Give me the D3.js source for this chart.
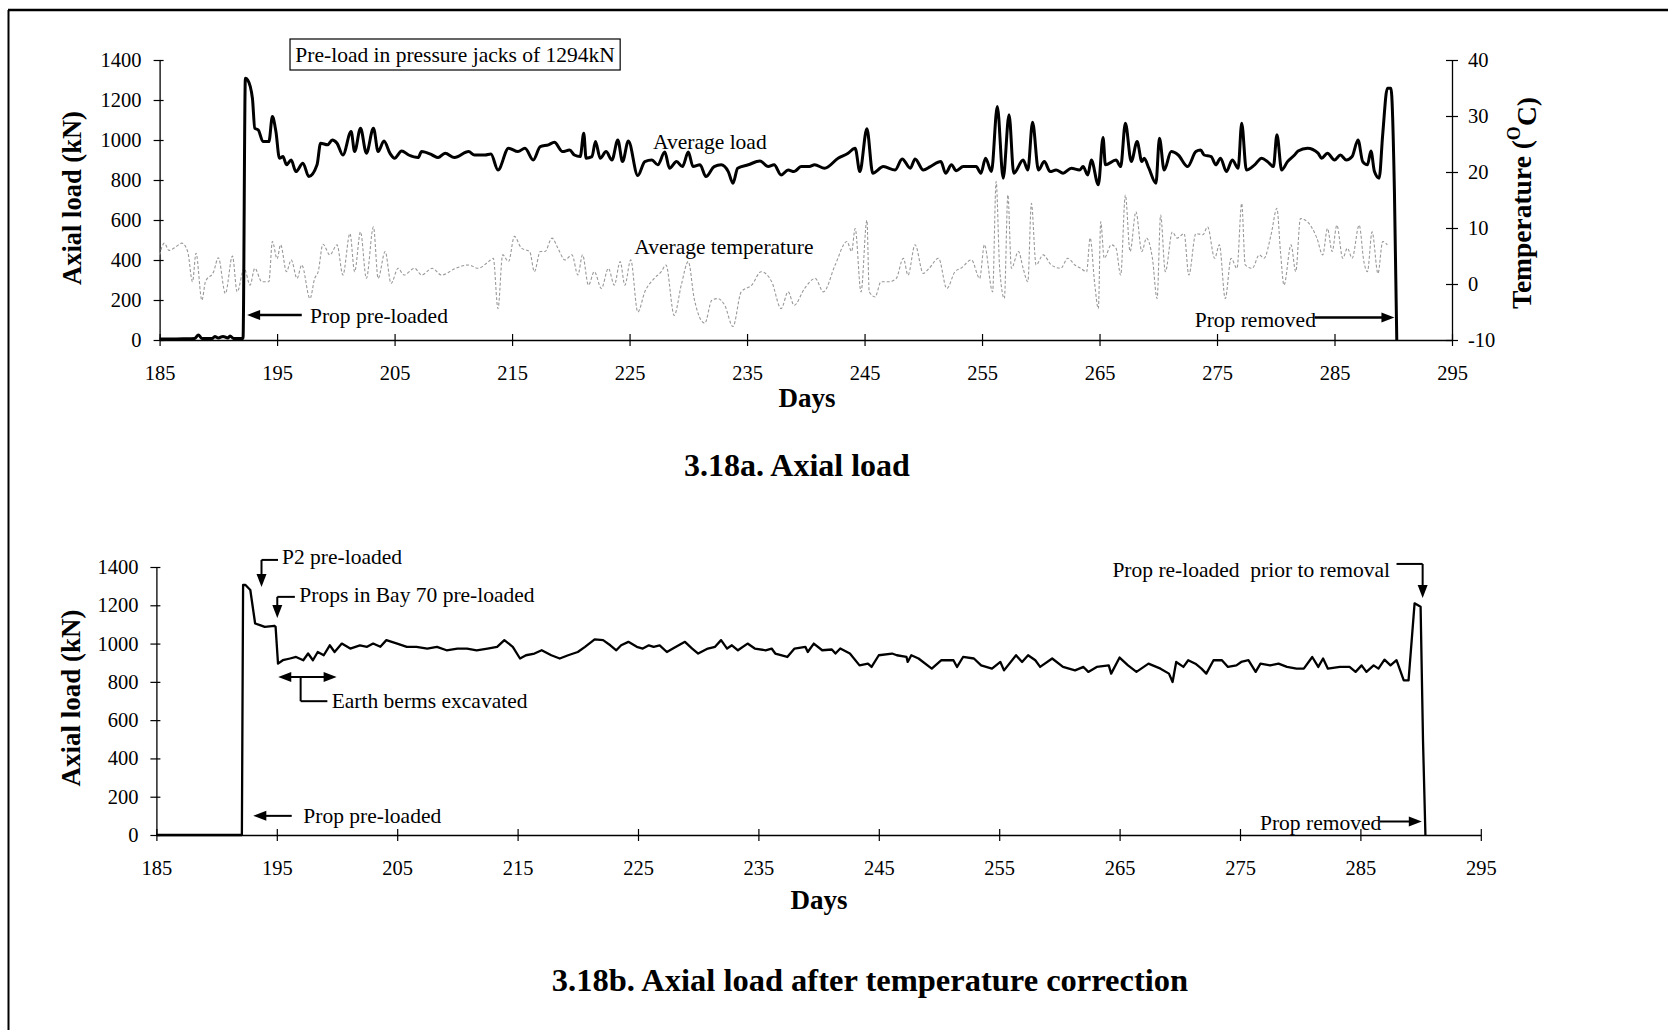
<!DOCTYPE html>
<html><head><meta charset="utf-8">
<script src="https://cdn.jsdelivr.net/npm/d3@7"></script>
<style>body{margin:0;background:#fff} svg{display:block}</style>
</head><body>
<svg id="c" width="1668" height="1030"></svg>
<script>
// ---------------- DATA ----------------
const dayTicks = [185,195,205,215,225,235,245,255,265,275,285,295];
const loadTicks = [0,200,400,600,800,1000,1200,1400];
const tempTicks = [-10,0,10,20,30,40];

// Fig 3.18a: average axial load (kN)
const loadADays = [185,186,187,188,188.3,188.6,189.5,189.7,190.0,190.4,190.8,191.0,191.3,192.1,192.3,192.5,192.9,193.1,193.4,193.8,194.3,194.6,194.9,195.2,195.5,195.8,196.2,196.6,197.2,197.7,198.4,198.7,199.3,199.7,200.1,200.6,201.3,201.6,202.1,202.6,203.2,203.6,204.1,204.6,205.0,205.6,206.2,207.0,207.3,208.2,208.7,209.3,210.1,211.3,211.8,212.7,213.2,213.8,214.7,215.5,216.1,216.8,217.4,218.1,218.6,219.3,219.9,220.3,220.8,221.1,221.3,221.8,222.1,222.5,223.0,223.5,224.0,224.4,224.9,225.7,226.3,226.9,227.4,228.0,228.4,229.0,229.5,230.0,230.4,231.0,231.5,232.2,232.8,233.4,233.8,234.2,235.1,236.1,236.8,237.3,237.9,238.5,239.0,239.6,240.3,240.75,241.6,242.75,243.6,244.2,244.6,245.2,245.7,246.6,247.6,248.2,248.9,249.3,250.0,250.6,251.5,251.9,252.4,252.8,253.4,254.5,254.9,255.3,255.8,256.3,256.8,257.3,257.7,258.5,258.9,259.3,259.8,260.3,260.8,261.3,261.9,262.6,263.3,263.6,264.0,264.3,264.9,265.3,265.5,266.4,266.8,267.2,267.7,268.2,268.6,268.8,269.2,269.8,270.1,270.5,271.1,271.7,272.5,273.2,273.6,273.9,274.5,274.9,275.3,275.8,276.3,276.8,277.1,277.5,278.2,278.8,279.3,279.8,280.1,280.5,281.0,281.6,281.9,282.7,283.6,283.9,284.4,285.0,285.5,286.0,286.5,287.0,287.4,287.8,288.1,288.4,288.8,289.1,289.5,289.8,290.1,290.3];
const loadAValues = [5,5,6,8,25,8,8,18,10,18,10,20,8,8,1309,1300,1209,1059,1050,992,992,1117,1042,909,917,876,900,842,884,817,876,984,976,1000,984,925,1042,942,1059,934,1059,942,995,934,909,945,925,912,942,925,912,934,912,942,925,925,930,850,959,942,959,900,967,976,989,942,950,925,917,1034,909,917,992,909,942,900,1000,892,995,822,892,900,876,940,859,892,867,940,867,876,817,867,876,842,784,859,876,895,867,876,825,850,842,867,867,876,859,909,934,959,842,1056,834,867,850,905,859,905,850,867,892,834,876,846,867,867,834,909,842,1167,809,1126,834,900,850,1089,850,892,842,850,834,859,850,867,825,900,776,1012,876,900,867,1084,892,992,892,909,859,784,1009,850,942,925,867,942,950,925,917,876,909,842,900,859,1084,850,876,909,892,867,1026,850,892,925,945,959,934,909,934,900,925,900,917,1000,892,876,945,842,809,1026,1259,1259,742,0];

// Fig 3.18a: average temperature (deg C)
const tempDays = [185.0,185.4,185.8,186.3,186.9,187.4,187.8,188.1,188.6,188.9,189.6,190.0,190.6,191.2,191.6,192.2,192.7,193.1,193.7,194.3,194.6,195.0,195.3,195.8,196.2,196.7,197.1,197.8,198.2,198.5,198.9,199.5,200.1,200.6,201.2,201.6,202.1,202.6,203.2,203.6,204.2,204.7,205.3,205.8,206.7,207.3,208.2,209.0,210.2,211.3,212.1,213.0,213.4,213.8,214.2,214.7,215.2,215.8,216.5,216.9,217.4,217.8,218.4,218.9,219.5,220.1,220.6,221.0,221.5,222.0,222.6,223.2,223.7,224.2,224.6,225.1,225.7,226.3,227.1,227.7,228.1,228.8,229.4,230.0,230.5,231.4,232.0,232.5,233.1,233.8,234.5,235.4,236.2,237.1,237.9,238.5,239.0,239.9,240.8,241.5,242.5,243.5,243.9,244.2,244.7,245.2,245.4,245.9,246.4,247.1,247.7,248.3,248.7,249.3,250.0,250.5,251.3,252.0,252.7,253.2,254.1,254.8,255.2,255.9,256.2,256.5,256.9,257.2,257.5,258.1,258.5,258.9,259.2,259.6,260.2,260.9,261.7,262.3,262.9,263.4,263.9,264.2,264.6,264.9,265.1,265.4,266.0,266.4,266.8,267.2,267.6,268.1,268.6,269.0,269.5,269.9,270.2,270.6,271.2,271.6,272.2,272.6,273.2,273.8,274.2,274.8,275.2,275.7,276.2,276.7,277.1,277.4,278.0,278.6,279.0,279.6,280.1,280.4,280.7,281.3,281.7,282.1,282.7,283.5,284.0,284.4,284.8,285.2,285.7,286.1,286.5,287.1,287.5,287.8,288.2,288.7,289.1,289.5];
const tempValues = [5.2,7.3,6.0,6.5,7.3,5.7,0.4,5.5,-2.9,0.4,2.2,4.7,-1.7,5.0,-1.4,2.8,-0.2,2.8,0.4,0.4,7.6,4.5,7.0,2.2,4.3,1.0,3.4,-2.6,1.0,2.2,7.1,5.2,7.0,1.6,9.0,2.2,9.3,1.0,10.2,1.0,5.8,0.1,2.8,1.6,2.8,1.6,2.8,1.6,2.8,3.4,2.8,4.0,4.6,-4.4,5.2,4.0,8.5,6.4,5.8,2.2,5.8,5.8,8.2,6.4,4.3,5.2,1.6,5.2,-0.2,2.2,-0.8,2.8,-0.2,4.0,-0.2,4.3,-5.0,-1.4,1.0,2.2,3.4,-5.6,-0.2,4.0,-2.6,-7.0,-2.9,-2.6,-3.8,-7.6,-1.4,-0.2,2.2,0.4,-4.4,-1.4,-3.8,-0.8,1.0,-1.4,3.4,7.6,5.8,9.9,-1.4,11.4,-1.4,-2.3,0.4,0.4,1.0,4.6,1.6,7.0,1.9,2.8,4.6,-0.8,2.2,2.8,4.3,1.0,7.0,-1.4,18.3,2.8,-2.6,15.9,2.8,5.8,2.8,0.4,14.4,3.4,5.2,3.4,2.8,4.6,3.4,2.8,2.2,8.2,-0.2,-4.4,11.1,4.6,7.0,6.4,1.6,15.9,5.8,12.9,5.8,8.2,4.6,-2.6,12.3,2.2,9.3,8.2,9.0,1.6,9.0,8.8,10.2,4.6,7.0,-2.6,4.6,2.8,14.4,3.4,2.8,5.2,4.6,8.8,13.5,5.8,-0.2,7.0,2.2,11.7,11.1,8.2,5.2,9.9,5.8,10.5,4.6,6.4,4.6,10.5,4.0,2.2,9.3,1.9,7.6,7.0];

// Fig 3.18b: axial load after temperature correction (kN)
const loadBDays = [185,192.1,192.2,192.4,192.8,193.2,193.6,194.0,194.4,194.8,194.9,195.1,195.5,196.1,196.6,197.2,197.6,198.0,198.4,198.9,199.4,199.8,200.4,201.1,201.9,202.5,203.0,203.6,204.1,205.0,205.8,206.6,207.5,208.3,209.1,210.0,210.8,211.6,212.5,213.3,213.9,214.6,215.2,215.7,216.4,217.0,217.8,218.5,219.2,220.0,220.6,221.4,222.1,222.7,223.2,223.6,224.2,224.9,225.4,225.9,226.3,226.8,227.4,227.9,228.9,229.5,230.0,230.8,231.4,231.9,232.4,232.8,233.3,234.1,234.7,235.6,236.1,236.4,237.4,238.0,238.9,239.1,239.6,240.3,241.1,241.4,241.8,242.6,243.4,244.1,244.4,245.0,246.1,246.5,247.3,247.4,247.7,248.3,249.4,250.2,251.2,251.5,252.0,252.9,253.5,254.4,255.1,255.4,256.4,256.9,257.4,258.0,258.4,259.4,260.3,261.3,262.0,262.4,263.1,264.1,264.3,265.0,265.7,266.4,267.4,268.4,269.1,269.4,269.7,270.3,270.7,271.3,271.8,272.2,272.8,273.5,274.0,274.7,275.1,275.7,276.3,276.7,277.5,278.2,278.9,279.7,280.3,281.0,281.5,281.9,282.3,283.3,284.1,284.6,285.1,285.5,286.1,286.5,287.0,287.5,288.0,288.6,289.0,289.5,290.0,290.2,290.4];
const loadBValues = [0,0,1306,1306,1280,1105,1096,1087,1090,1093,1087,895,913,922,930,913,948,913,956,939,991,956,1000,974,991,983,1000,983,1018,1000,983,983,974,983,965,974,974,965,974,983,1018,983,922,939,948,965,939,922,939,956,983,1022,1018,991,965,991,1009,983,974,991,983,991,956,974,1009,974,948,974,983,1018,974,991,965,1000,974,965,974,948,930,974,983,956,1000,965,969,948,974,948,886,895,878,939,948,939,930,904,939,922,869,913,913,878,930,922,886,869,904,860,939,904,939,913,878,922,878,860,878,852,878,886,843,927,886,852,895,869,843,799,904,878,913,895,869,843,913,913,878,886,904,913,852,895,886,895,878,869,869,930,878,922,869,878,878,852,886,852,886,869,916,886,913,808,808,1210,1192,493,0];

// ---------------- DRAW ----------------
const SERIF = "'Liberation Serif','Times New Roman',Times,serif";
const svg = d3.select("#c");
const fmtNum = d => (d < 0 ? "-" + (-d) : String(d));

// page frame
svg.append("line").attr("x1",8.5).attr("x2",8.5).attr("y1",10).attr("y2",1030).attr("stroke","#000").attr("stroke-width",2);
svg.append("line").attr("x1",8).attr("x2",1668).attr("y1",10).attr("y2",10).attr("stroke","#000").attr("stroke-width",2.5);

function zip(a,b){ return a.map((d,i)=>({x:d,y:b[i]})); }

function drawAxes(g, x, y, fs){
  const [yb] = y.range();
  const xa = g.append("g").attr("transform",`translate(0,${yb})`)
    .call(d3.axisBottom(x).tickValues(dayTicks).tickSizeOuter(0).tickFormat(fmtNum));
  xa.selectAll(".tick line").attr("y1",-6).attr("y2",6);
  xa.selectAll(".tick text").attr("y",33).attr("dy","0.35em");
  const [x0] = x.range();
  const ya = g.append("g").attr("transform",`translate(${x0},0)`)
    .call(d3.axisLeft(y).tickValues(loadTicks).tickSizeOuter(0).tickFormat(fmtNum));
  ya.selectAll(".tick line").attr("x1",-6).attr("x2",4);
  ya.selectAll(".tick text").attr("x",-18);
  [xa,ya].forEach(a=>{
    a.attr("font-family",SERIF).attr("font-size",fs);
    a.selectAll("text").attr("fill","#000");
    a.select(".domain").attr("stroke","#000").attr("stroke-width",1.3);
    a.selectAll(".tick line").attr("stroke","#000").attr("stroke-width",1.2);
  });
  return {xa,ya};
}

function arrowHead(g, tx, ty, dir, len=13, hw=5){
  let p;
  if(dir==="left") p=[[tx,ty],[tx+len,ty-hw],[tx+len,ty+hw]];
  else if(dir==="right") p=[[tx,ty],[tx-len,ty-hw],[tx-len,ty+hw]];
  else if(dir==="down") p=[[tx,ty],[tx-hw,ty-len],[tx+hw,ty-len]];
  g.append("path").attr("d","M"+p.map(q=>q.join(",")).join("L")+"Z").attr("fill","#000");
}
function txt(g, x, y, s, opts={}){
  return g.append("text").attr("x",x).attr("y",y).attr("dy","0.35em")
    .attr("font-family",SERIF).attr("font-size",opts.fs||20)
    .attr("font-weight",opts.bold?"bold":"normal")
    .attr("text-anchor",opts.anchor||"start").attr("fill","#000").text(s);
}

// ===== Top chart (3.18a) =====
{
  const g = svg.append("g");
  const x = d3.scaleLinear().domain([185,295]).range([159.6,1452]);
  const y = d3.scaleLinear().domain([0,1400]).range([340,60]);
  const yT = d3.scaleLinear().domain([-10,40]).range([340,60]);
  drawAxes(g, x, y, 20.5);
  const ra = g.append("g").attr("transform",`translate(${x(295)},0)`)
    .call(d3.axisRight(yT).tickValues(tempTicks).tickSizeOuter(0).tickFormat(fmtNum));
  ra.attr("font-family",SERIF).attr("font-size",20.5);
  ra.selectAll(".tick line").attr("x1",-6).attr("x2",6).attr("stroke","#000").attr("stroke-width",1.2);
  ra.selectAll(".tick text").attr("x",16).attr("fill","#000");
  ra.select(".domain").attr("stroke","#000").attr("stroke-width",1.3);

  // temperature
  g.append("path").datum(zip(tempDays,tempValues))
    .attr("fill","none").attr("stroke","#999").attr("stroke-width",1.1)
    .attr("stroke-dasharray","3,2")
    .attr("d", d3.line().x(d=>x(d.x)).y(d=>yT(d.y)).curve(d3.curveMonotoneX));
  // load
  g.append("path").datum(zip(loadADays,loadAValues))
    .attr("fill","none").attr("stroke","#000").attr("stroke-width",3)
    .attr("stroke-linejoin","round")
    .attr("d", d3.line().x(d=>x(d.x)).y(d=>y(d.y)).curve(d3.curveMonotoneX));

  // annotation box
  const bx0 = x(196.1), bx1 = x(224.2), by0 = 39, by1 = 70;
  g.append("rect").attr("x",bx0).attr("y",by0).attr("width",bx1-bx0).attr("height",by1-by0)
    .attr("fill","#fff").attr("stroke","#000").attr("stroke-width",1.2);
  txt(g,(bx0+bx1)/2,(by0+by1)/2,"Pre-load in pressure jacks of 1294kN",{anchor:"middle",fs:21.5});

  txt(g, x(227.0), y(992), "Average load", {fs:21.5});
  txt(g, x(225.4), yT(6.7), "Average temperature", {fs:21.5});

  // Prop pre-loaded
  const ay = y(125);
  g.append("line").attr("x1",x(192.45)+10).attr("x2",x(197.1)).attr("y1",ay).attr("y2",ay).attr("stroke","#000").attr("stroke-width",2.5);
  arrowHead(g, x(192.45), ay, "left");
  txt(g, x(197.8), ay, "Prop pre-loaded", {fs:21.5});

  // Prop removed
  const ry = y(108);
  txt(g, x(273.1), ry+1, "Prop removed", {fs:21.5});
  g.append("line").attr("x1",x(283.3)).attr("x2",x(290.1)-10).attr("y1",ry-1).attr("y2",ry-1).attr("stroke","#000").attr("stroke-width",2.5);
  arrowHead(g, x(290.1), ry-1, "right");

  // axis titles
  g.append("text").attr("transform",`translate(72,198) rotate(-90)`)
    .attr("text-anchor","middle").attr("dy","0.35em").attr("font-family",SERIF)
    .attr("font-size",26.5).attr("font-weight","bold").text("Axial load (kN)");
  const tt = g.append("text").attr("transform",`translate(1521,203) rotate(-90)`)
    .attr("text-anchor","middle").attr("dy","0.35em").attr("font-family",SERIF)
    .attr("font-size",27.5).attr("font-weight","bold");
  tt.append("tspan").text("Temperature (");
  tt.append("tspan").attr("font-size",18).attr("dy","-0.6em").text("O");
  tt.append("tspan").attr("dy","0.6em").text("C)");
  txt(g, 807, 398, "Days", {fs:27, bold:true, anchor:"middle"});
  txt(g, 797, 465, "3.18a. Axial load", {fs:32, bold:true, anchor:"middle"});
}

// ===== Bottom chart (3.18b) =====
{
  const g = svg.append("g");
  const x = d3.scaleLinear().domain([185,295]).range([156.4,1480.8]);
  const y = d3.scaleLinear().domain([0,1400]).range([835,567]);
  drawAxes(g, x, y, 20.5);

  g.append("path").datum(zip(loadBDays,loadBValues))
    .attr("fill","none").attr("stroke","#000").attr("stroke-width",2.3)
    .attr("stroke-linejoin","round")
    .attr("d", d3.line().x(d=>x(d.x)).y(d=>y(d.y)));

  const lw = 2;
  function seg(x1,y1,x2,y2){ g.append("line").attr("x1",x1).attr("y1",y1).attr("x2",x2).attr("y2",y2).attr("stroke","#000").attr("stroke-width",lw); }

  // P2 pre-loaded
  seg(x(193.73), y(1437), x(195.1), y(1437));
  seg(x(193.73), y(1437), x(193.73), y(1295)-10);
  arrowHead(g, x(193.73), y(1295), "down");
  txt(g, x(195.43), y(1455), "P2 pre-loaded", {fs:21.5});

  // Props in Bay 70 pre-loaded
  seg(x(195.04), y(1244), x(196.5), y(1244));
  seg(x(195.04), y(1244), x(195.04), y(1133)-10);
  arrowHead(g, x(195.04), y(1133), "down");
  txt(g, x(196.87), y(1258), "Props in Bay 70 pre-loaded", {fs:21.5});

  // Earth berms excavated
  seg(x(195.12)+10, y(825), x(199.97)-10, y(825));
  arrowHead(g, x(195.12), y(825), "left");
  arrowHead(g, x(199.97), y(825), "right");
  seg(x(196.98), y(825), x(196.98), y(699));
  seg(x(196.98), y(699), x(199.2), y(699));
  txt(g, x(199.56), y(703), "Earth berms excavated", {fs:21.5});

  // Prop pre-loaded
  seg(x(193.05)+10, y(100), x(196.24), y(100));
  arrowHead(g, x(193.05), y(100), "left");
  txt(g, x(197.2), y(100), "Prop pre-loaded", {fs:21.5});

  // Prop re-loaded prior to removal
  txt(g, x(287.46), y(1388), "Prop re-loaded  prior to removal", {fs:21.5, anchor:"end"}).attr("xml:space","preserve");
  seg(x(288.0), y(1416), x(290.17), y(1416));
  seg(x(290.17), y(1416), x(290.17), y(1238)-10);
  arrowHead(g, x(290.17), y(1238), "down");

  // Prop removed
  txt(g, x(276.66), y(68), "Prop removed", {fs:21.5});
  seg(x(286.6), y(70), x(290.1)-10, y(70));
  arrowHead(g, x(290.1), y(70), "right");

  g.append("text").attr("transform",`translate(71,698) rotate(-90)`)
    .attr("text-anchor","middle").attr("dy","0.35em").attr("font-family",SERIF)
    .attr("font-size",27).attr("font-weight","bold").text("Axial load (kN)");
  txt(g, 819, 900, "Days", {fs:27, bold:true, anchor:"middle"});
  txt(g, 870, 980, "3.18b. Axial load after temperature correction", {fs:32.5, bold:true, anchor:"middle"});
}
</script>
</body></html>
